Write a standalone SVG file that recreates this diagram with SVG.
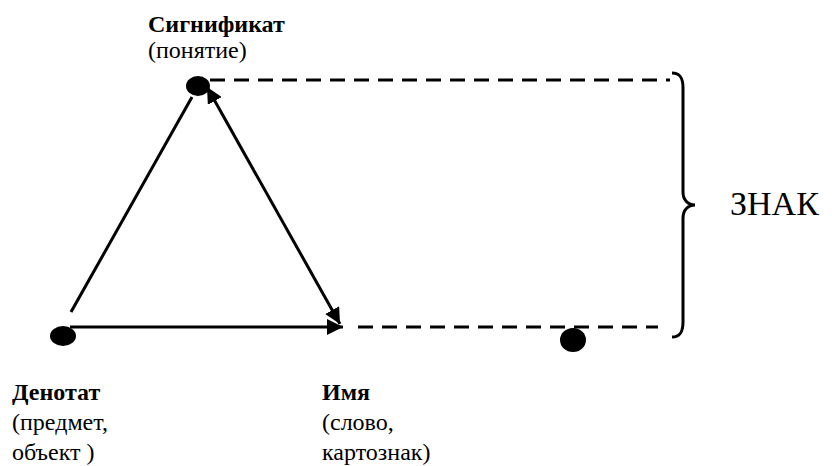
<svg xmlns="http://www.w3.org/2000/svg" width="832" height="466" viewBox="0 0 832 466">
<style>
text{font-family:'Times New Roman','Liberation Serif','DejaVu Serif',serif;font-size:24px;fill:#000}
.b{font-weight:bold}
.ln{stroke:#000;stroke-width:3;fill:none}
.dash{stroke:#000;stroke-width:3;fill:none;stroke-dasharray:15 9}
.dot{fill:#000}
</style>
<defs>
<marker id="ah" viewBox="0 0 16 16" refX="16" refY="8" markerWidth="16" markerHeight="16" markerUnits="userSpaceOnUse" orient="auto-start-reverse">
<path d="M0,0 L16,8 L0,16 Z" fill="#000"/>
</marker>
</defs>
<rect width="832" height="466" fill="#fff"/>
<g id="connectors">
<line class="dash" x1="210" y1="80" x2="670" y2="80"/>
<line class="dash" x1="358" y1="327" x2="658" y2="327"/>
<line class="ln" x1="71" y1="312" x2="192" y2="97"/>
<line class="ln" x1="70" y1="327" x2="343" y2="327" marker-end="url(#ah)"/>
<line class="ln" x1="207" y1="87" x2="340" y2="324" marker-start="url(#ah)" marker-end="url(#ah)"/>
<path class="ln" d="M672,73 C680,73 683,78 683,88 L683,192 C683,200 688,205 695,205 C688,205 683,210 683,218 L683,322 C683,332 680,337 672,337"/>
</g>
<g id="signifikat">
<ellipse class="dot" cx="198" cy="86" rx="12" ry="10"/>
<text class="b" x="148" y="32">Сигнификат</text>
<text x="148" y="58">(понятие)</text>
</g>
<g id="denotat">
<ellipse class="dot" cx="63" cy="336" rx="13" ry="10"/>
<text class="b" x="12" y="400">Денотат</text>
<text x="12" y="430">(предмет,</text>
<text x="12" y="460">объект )</text>
</g>
<g id="imya">
<text class="b" x="322" y="400">Имя</text>
<text x="322" y="430">(слово,</text>
<text x="322" y="460">картознак)</text>
</g>
<g id="dot2">
<ellipse class="dot" cx="573" cy="340" rx="13" ry="12"/>
</g>
<g id="znak">
<text x="730" y="215" style="font-size:34px">ЗНАК</text>
</g>
</svg>
